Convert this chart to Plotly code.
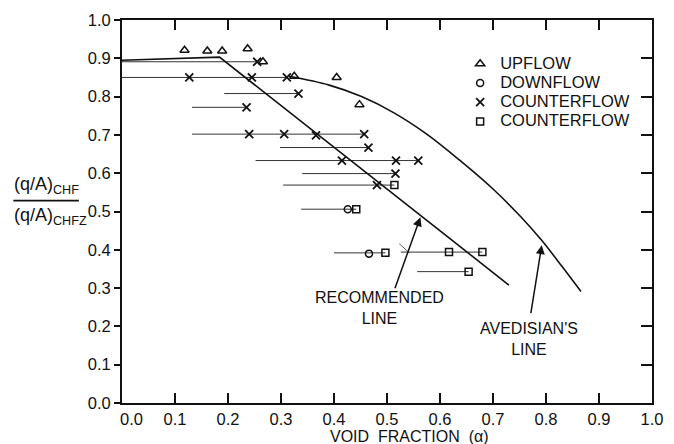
import plotly.graph_objects as go

# ---------------- data ----------------
up_x = [0.118, 0.161, 0.189, 0.237, 0.266, 0.325, 0.405, 0.448]
up_y = [0.921, 0.919, 0.919, 0.925, 0.891, 0.853, 0.850, 0.779]

down_x = [0.426, 0.466]
down_y = [0.506, 0.390]

cx_x = [0.255, 0.127, 0.245, 0.311, 0.333, 0.235, 0.240, 0.306, 0.366, 0.457,
        0.465, 0.415, 0.517, 0.559, 0.516, 0.481]
cx_y = [0.891, 0.850, 0.850, 0.850, 0.808, 0.772, 0.702, 0.702, 0.699, 0.702,
        0.667, 0.633, 0.633, 0.633, 0.599, 0.569]

sq_x = [0.514, 0.442, 0.497, 0.617, 0.680, 0.654]
sq_y = [0.569, 0.506, 0.392, 0.394, 0.394, 0.343]

# horizontal range bars: start, end, level
bar_x0 = [0.000, 0.000, 0.193, 0.132, 0.132, 0.298, 0.252, 0.340, 0.304, 0.338, 0.400, 0.526, 0.557]
bar_x1 = [0.255, 0.311, 0.333, 0.235, 0.457, 0.465, 0.559, 0.516, 0.514, 0.442, 0.497, 0.680, 0.654]
bar_y = [0.891, 0.850, 0.808, 0.772, 0.702, 0.667, 0.633, 0.599, 0.569, 0.506, 0.392, 0.394, 0.343]

stray_x = [0.523, 0.542]
stray_y = [0.416, 0.392]

rec_x = [0.000, 0.184, 0.730]
rec_y = [0.895, 0.903, 0.308]

ave_x = [0.315, 0.391, 0.452, 0.514, 0.575, 0.637, 0.699, 0.752, 0.791, 0.830, 0.866]
ave_y = [0.853, 0.830, 0.800, 0.757, 0.702, 0.634, 0.560, 0.487, 0.426, 0.357, 0.291]

tick_vals = [0.0, 0.1, 0.2, 0.3, 0.4, 0.5, 0.6, 0.7, 0.8, 0.9, 1.0]
y_tick_text = ["0.0", "0.1", "0.2", "0.3", "0.4", "0.5", "0.6", "0.7", "0.8", "0.9", "1.0"]
x_tick_text = ["", "0.1", "0.2", "0.3", "0.4", "0.5", "0.6", "0.7", "0.8", "0.9", "1.0"]

legend_names = ["UPFLOW", "DOWNFLOW", "COUNTERFLOW", "COUNTERFLOW"]

# ---------------- figure ----------------
FONT = "Liberation Sans, Arial, sans-serif"
INK = "#111111"
L, R, T, B = 122, 11, 15, 41
W, H = 674, 444
PW, PH = W - L - R, H - T - B


def px_to_paper(px, py):
    return (px - L) / PW, (H - B - py) / PH


def big(s, size=16.5):
    return '<span style="font-size:%spx">%s</span>' % (size, s)


fig = go.Figure()

# range bars
bx, by = [], []
for a, b, y in zip(bar_x0, bar_x1, bar_y):
    bx += [a, b, None]
    by += [y, y, None]
fig.add_trace(go.Scatter(x=bx, y=by, mode="lines", line=dict(color="#333333", width=1),
                         showlegend=False, hoverinfo="skip"))
fig.add_trace(go.Scatter(x=stray_x, y=stray_y, mode="lines", line=dict(color="#444444", width=0.8),
                         showlegend=False, hoverinfo="skip"))

# recommended line
fig.add_trace(go.Scatter(x=rec_x, y=rec_y, mode="lines", line=dict(color=INK, width=1.6),
                         showlegend=False, hoverinfo="skip"))
# Avedisian's line
fig.add_trace(go.Scatter(x=ave_x, y=ave_y, mode="lines",
                         line=dict(color=INK, width=1.6, shape="spline", smoothing=1.0),
                         showlegend=False, hoverinfo="skip"))

# markers
fig.add_trace(go.Scatter(x=up_x, y=up_y, mode="markers", name=big(legend_names[0]),
                         marker=dict(symbol="triangle-up-open", size=8, color=INK, line=dict(width=1.5, color=INK))))
fig.add_trace(go.Scatter(x=down_x, y=down_y, mode="markers", name=big(legend_names[1]),
                         marker=dict(symbol="circle-open", size=7, color=INK, line=dict(width=1.5, color=INK))))
fig.add_trace(go.Scatter(x=cx_x, y=cx_y, mode="markers", name=big(legend_names[2]),
                         marker=dict(symbol="x-thin", size=8, color=INK, line=dict(width=1.8, color=INK))))
fig.add_trace(go.Scatter(x=sq_x, y=sq_y, mode="markers", name=big(legend_names[3]),
                         marker=dict(symbol="square-open", size=7, color=INK, line=dict(width=1.5, color=INK))))

# invisible trace for mirrored right axis
fig.add_trace(go.Scatter(x=[None], y=[None], yaxis="y2", showlegend=False, hoverinfo="skip"))

axis_common = dict(range=[0, 1], showgrid=False, zeroline=False, showline=True,
                   linecolor=INK, linewidth=1.8, tickcolor=INK, tickwidth=1.6,
                   tickfont=dict(family=FONT, size=16.5, color=INK))

fig.update_layout(
    width=W, height=H,
    margin=dict(l=L, r=R, t=T, b=B, pad=0),
    paper_bgcolor="white", plot_bgcolor="white",
    font=dict(family=FONT, color=INK),
    xaxis=dict(axis_common, tickvals=tick_vals, ticktext=x_tick_text, ticks="inside",
               ticklen=10, mirror="ticks"),
    yaxis=dict(axis_common, tickvals=tick_vals, ticktext=y_tick_text, ticks="outside",
               ticklen=6, mirror=True),
    yaxis2=dict(axis_common, tickvals=tick_vals, overlaying="y", side="right", ticks="inside",
                ticklen=11, showticklabels=False, showline=False),
    legend=dict(x=0.638, y=0.924, xanchor="left", yanchor="top", bgcolor="rgba(0,0,0,0)",
                font=dict(family=FONT, size=12.5, color=INK), tracegroupgap=0),
)

# x tick label 0.0 (shifted right as in the original)
fig.add_annotation(x=0.017, y=0, xref="x", yref="y", text="0.0", showarrow=False,
                   yanchor="top", yshift=-5, font=dict(family=FONT, size=16.5, color=INK))
# x axis title
fig.add_annotation(x=0.543, y=-0.06, xref="paper", yref="paper",
                   text="VOID\u00a0\u00a0FRACTION\u00a0\u00a0(\u03b1)",
                   showarrow=False, yanchor="top", font=dict(family=FONT, size=16, color=INK))

# y axis title as a fraction
nx, ny = px_to_paper(10, 196)
dx, dy = px_to_paper(10, 200)
lx1, _ = px_to_paper(78, 0)
fig.add_annotation(x=nx, y=ny, xref="paper", yref="paper", xanchor="left", yanchor="bottom",
                   text="(q/A)<sub>CHF</sub>", showarrow=False, font=dict(family=FONT, size=18, color=INK))
fig.add_annotation(x=dx, y=dy, xref="paper", yref="paper", xanchor="left", yanchor="top",
                   text="(q/A)<sub>CHFZ</sub>", showarrow=False, font=dict(family=FONT, size=18, color=INK))
fig.add_shape(type="line", xref="paper", yref="paper", x0=nx + 0.002, x1=lx1,
              y0=(ny + dy) / 2, y1=(ny + dy) / 2, line=dict(color=INK, width=1.6))

# labels with arrows
fig.add_annotation(x=0.563, y=0.485, ax=0.514, ay=0.296, xref="x", yref="y", axref="x", ayref="y",
                   text="", showarrow=True, arrowhead=2, arrowsize=1.2, arrowwidth=1.5, arrowcolor=INK)
fig.add_annotation(x=0.792, y=0.412, ax=0.771, ay=0.231, xref="x", yref="y", axref="x", ayref="y",
                   text="", showarrow=True, arrowhead=2, arrowsize=1.2, arrowwidth=1.5, arrowcolor=INK)
fig.add_annotation(x=0.486, y=0.248, xref="x", yref="y", text="RECOMMENDED<br>LINE", showarrow=False,
                   font=dict(family=FONT, size=16, color=INK), align="center")
fig.add_annotation(x=0.767, y=0.168, xref="x", yref="y", text="AVEDISIAN'S<br>LINE", showarrow=False,
                   font=dict(family=FONT, size=16, color=INK), align="center")

fig.write_html("out.html")
